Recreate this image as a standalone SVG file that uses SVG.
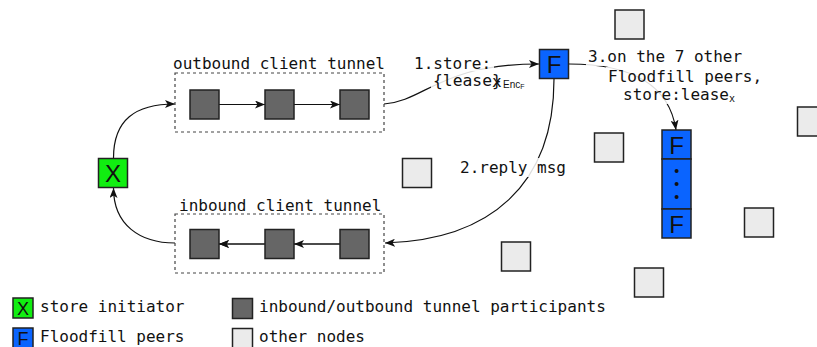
<svg xmlns="http://www.w3.org/2000/svg" width="817" height="347" viewBox="0 0 817 347">
<style>
.t{font-family:"DejaVu Sans Mono","Liberation Mono",monospace;font-size:16px;fill:#111}
.l{font-family:"Liberation Sans",Arial,sans-serif;fill:#111;text-anchor:middle}
.tp{fill:#666;stroke:#222;stroke-width:1.5}
.ot{fill:#ebebeb;stroke:#222;stroke-width:1.5}
.ff{fill:#0a64ff;stroke:#222;stroke-width:1.5}
.gr{fill:#11ee11;stroke:#222;stroke-width:1.5}
.box{fill:none;stroke:#444;stroke-width:1.2;stroke-dasharray:3 3}
.c{fill:none;stroke:#111;stroke-width:1.2}
.bg{fill:#fff;fill-opacity:0.85}
</style>
<defs>
<marker id="ah" viewBox="0 0 10 8" refX="10" refY="4" markerWidth="10" markerHeight="8" markerUnits="userSpaceOnUse" orient="auto">
<path d="M0,0 L10,4 L0,8 L2.5,4 z" fill="#111"/>
</marker>
</defs>
<rect width="817" height="347" fill="#fff"/>

<g id="connectors">
<path class="c" d="M113.5,158 C113.5,120 135,104 175,104" marker-end="url(#ah)"/>
<path class="c" d="M175,243 C140,243 113.5,225 113.5,188" marker-end="url(#ah)"/>
<path class="c" d="M219,104.5 L265,104.5" marker-end="url(#ah)"/>
<path class="c" d="M294,104.5 L340,104.5" marker-end="url(#ah)"/>
<path class="c" d="M340,244 L219,244" marker-end="url(#ah)"/>
<path class="c" d="M265,244 L219,244" marker-end="url(#ah)"/>
<path class="c" d="M340,244 L294,244" marker-end="url(#ah)"/>
<path class="c" d="M384,104 C425,101 440,64 539,64" marker-end="url(#ah)"/>
<path class="c" d="M569,64 C640,64 670,90 676,130" marker-end="url(#ah)"/>
<path class="c" d="M554,79 C554,185 490,240 385,243" marker-end="url(#ah)"/>
</g>

<g id="outbound-tunnel">
<rect class="box" x="175" y="73" width="209" height="59"/>
<text class="t" x="173" y="69">outbound client tunnel</text>
<rect class="tp" x="190" y="90" width="29" height="29"/>
<rect class="tp" x="265" y="90" width="29" height="29"/>
<rect class="tp" x="340" y="90" width="29" height="29"/>
</g>

<g id="inbound-tunnel">
<rect class="box" x="175" y="214" width="209" height="59"/>
<text class="t" x="179" y="211">inbound client tunnel</text>
<rect class="tp" x="190" y="229.5" width="29" height="29"/>
<rect class="tp" x="265" y="229.5" width="29" height="29"/>
<rect class="tp" x="340" y="229.5" width="29" height="29"/>
</g>

<g id="initiator">
<rect class="gr" x="98.5" y="158.5" width="29" height="29"/>
<text class="l" x="113" y="182" font-size="24">X</text>
</g>

<g id="floodfill">
<rect class="ff" x="539.5" y="49.5" width="29" height="29"/>
<text class="l" x="554" y="73" font-size="24">F</text>
</g>

<g id="floodfill-stack">
<rect class="ff" x="662" y="130" width="29" height="29"/>
<text class="l" x="676.5" y="154" font-size="24">F</text>
<rect class="ff" x="662" y="159" width="29" height="50"/>
<circle cx="676.5" cy="171" r="2" fill="#111"/>
<circle cx="676.5" cy="184" r="2" fill="#111"/>
<circle cx="676.5" cy="197" r="2" fill="#111"/>
<rect class="ff" x="662" y="209" width="29" height="29"/>
<text class="l" x="676.5" y="233" font-size="24">F</text>
</g>

<g id="other-nodes">
<rect class="ot" x="615" y="10" width="29" height="29"/>
<rect class="ot" x="402.5" y="158.5" width="29" height="29"/>
<rect class="ot" x="501.5" y="242" width="29" height="29"/>
<rect class="ot" x="594.5" y="133" width="29" height="29"/>
<rect class="ot" x="744.5" y="208" width="29" height="29"/>
<rect class="ot" x="634.5" y="268" width="29" height="29"/>
<rect class="ot" x="797.5" y="107" width="29" height="29"/>
</g>

<g id="label-store">
<rect class="bg" x="412" y="54" width="82" height="17"/>
<rect class="bg" x="431" y="70" width="96" height="22"/>
<text class="t" x="414" y="69">1.store:</text>
<text class="t" x="433" y="86" font-size="20" textLength="59" lengthAdjust="spacingAndGlyphs">{lease</text>
<text class="t" x="492" y="87" font-size="10">x</text>
<text class="t" x="492" y="86" font-size="20">}</text>
<text x="503" y="88" font-family="Liberation Sans,Arial,sans-serif" font-size="10" fill="#111">Enc<tspan font-size="7" dy="1">F</tspan></text>
</g>

<g id="label-reply">
<rect class="bg" x="458" y="158" width="110" height="19"/>
<text class="t" x="460" y="173">2.reply msg</text>
</g>

<g id="label-flood">
<rect class="bg" x="586" y="48" width="160" height="18"/>
<rect class="bg" x="606" y="67" width="157" height="19"/>
<rect class="bg" x="621" y="86" width="117" height="18"/>
<text class="t" x="588" y="62">3.on the 7 other</text>
<text class="t" x="608" y="81.5">Floodfill peers,</text>
<text class="t" x="623" y="100">store:lease<tspan font-size="10" dy="1.5">x</tspan></text>
</g>

<g id="legend">
<rect class="gr" x="13" y="298" width="20" height="20"/>
<text class="l" x="23" y="315" font-size="18">X</text>
<text class="t" x="40" y="312">store initiator</text>
<rect class="ff" x="13" y="328" width="20" height="20"/>
<text class="l" x="23" y="345" font-size="18">F</text>
<text class="t" x="40" y="342">Floodfill peers</text>
<rect class="tp" x="232.5" y="298.5" width="20" height="20"/>
<text class="t" x="259" y="312">inbound/outbound tunnel participants</text>
<rect class="ot" x="232.5" y="328.5" width="20" height="20"/>
<text class="t" x="259" y="342">other nodes</text>
</g>
</svg>
